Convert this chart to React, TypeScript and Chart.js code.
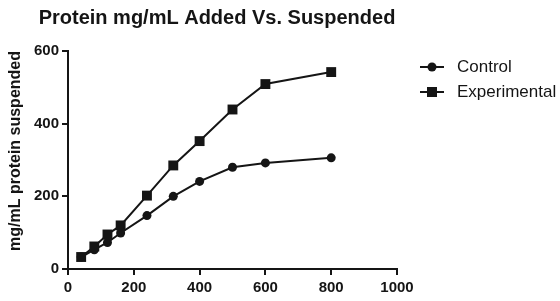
import React, { useEffect, useRef } from "react";
import { Chart, registerables } from "chart.js";

Chart.register(...registerables);

const chartTitle = "Protein mg/mL Added Vs. Suspended";
const yAxisTitle = "mg/mL protein suspended";
const addedValues = [40, 80, 120, 160, 240, 320, 400, 500, 600, 800];
const controlValues = [33, 53, 73, 99, 147, 200, 241, 280, 292, 306];
const experimentalValues = [33, 62, 95, 120, 202, 285, 352, 439, 509, 542];
const seriesNames = ["Control", "Experimental"];
const xTicks = [0, 200, 400, 600, 800, 1000];
const yTicks = [0, 200, 400, 600];

const FONT = "'Liberation Sans', Arial, Helvetica, sans-serif";
const INK = "#151515";

const customPlugin = {
  id: "customDecor",
  afterDraw(chart: any) {
    const ctx = chart.ctx;
    ctx.save();
    // Title
    ctx.fillStyle = INK;
    ctx.font = `bold 20px ${FONT}`;
    ctx.textAlign = "center";
    ctx.textBaseline = "middle";
    ctx.fillText(chartTitle, 217, 18);
    // Y axis title
    ctx.save();
    ctx.translate(16, 151);
    ctx.rotate(-Math.PI / 2);
    ctx.font = `bold 16px ${FONT}`;
    ctx.fillText(yAxisTitle, 0, 0);
    ctx.restore();
    // Legend
    const lx = 420;
    const items = [
      { name: seriesNames[0], y: 67, style: "circle" },
      { name: seriesNames[1], y: 92, style: "rect" },
    ];
    ctx.font = `17px ${FONT}`;
    ctx.textAlign = "left";
    for (const it of items) {
      ctx.strokeStyle = INK;
      ctx.lineWidth = 2;
      ctx.beginPath();
      ctx.moveTo(lx, it.y);
      ctx.lineTo(lx + 24, it.y);
      ctx.stroke();
      ctx.fillStyle = INK;
      if (it.style === "circle") {
        ctx.beginPath();
        ctx.arc(lx + 12, it.y, 4.5, 0, Math.PI * 2);
        ctx.fill();
      } else {
        ctx.fillRect(lx + 7, it.y - 5, 10, 10);
      }
      ctx.fillText(it.name, lx + 37, it.y);
    }
    ctx.restore();
  },
};

export default function App() {
  const ref = useRef<HTMLCanvasElement | null>(null);
  useEffect(() => {
    if (!ref.current) return;
    const chart = new Chart(ref.current, {
      type: "line",
      data: {
        datasets: [
          {
            label: seriesNames[1],
            data: addedValues.map((x, i) => ({ x, y: experimentalValues[i] })),
            borderColor: INK,
            backgroundColor: INK,
            borderWidth: 2,
            pointStyle: "rect",
            pointRadius: 7,
            pointBorderWidth: 0,
            tension: 0,
          },
          {
            label: seriesNames[0],
            data: addedValues.map((x, i) => ({ x, y: controlValues[i] })),
            borderColor: INK,
            backgroundColor: INK,
            borderWidth: 2,
            pointStyle: "circle",
            pointRadius: 4.5,
            pointBorderWidth: 0,
            tension: 0,
          },
        ],
      },
      options: {
        animation: false,
        responsive: false,
        maintainAspectRatio: false,
        layout: { padding: { top: 51, right: 163, left: 0, bottom: 0 } },
        plugins: {
          legend: { display: false },
          title: { display: false },
          tooltip: { enabled: false },
        },
        scales: {
          x: {
            type: "linear",
            min: 0,
            max: 1000,
            afterBuildTicks: (s: any) => {
              s.ticks = xTicks.map((v) => ({ value: v }));
            },
            afterFit: (s: any) => {
              s.height = 32;
            },
            border: { color: INK, width: 2 },
            grid: {
              drawOnChartArea: false,
              drawTicks: true,
              tickLength: 6,
              color: INK,
              lineWidth: 2,
            },
            ticks: {
              color: INK,
              font: { family: FONT, size: 15, weight: "bold" },
              padding: 4,
              maxRotation: 0,
              callback: (v: any) => String(v),
            },
          },
          y: {
            type: "linear",
            min: 0,
            max: 600,
            afterBuildTicks: (s: any) => {
              s.ticks = yTicks.map((v) => ({ value: v }));
            },
            afterFit: (s: any) => {
              s.width = 68;
            },
            border: { color: INK, width: 2 },
            grid: {
              drawOnChartArea: false,
              drawTicks: true,
              tickLength: 6,
              color: INK,
              lineWidth: 2,
            },
            ticks: {
              color: INK,
              font: { family: FONT, size: 15, weight: "bold" },
              padding: 3,
              callback: (v: any) => String(v),
            },
          },
        },
      },
      plugins: [customPlugin],
    } as any);
    return () => chart.destroy();
  }, []);
  return (
    <div style={{ position: "absolute", left: 0, top: 0, width: 560, height: 301, background: "#fff" }}>
      <canvas ref={ref} width={560} height={301} style={{ width: 560, height: 301 }} />
    </div>
  );
}
